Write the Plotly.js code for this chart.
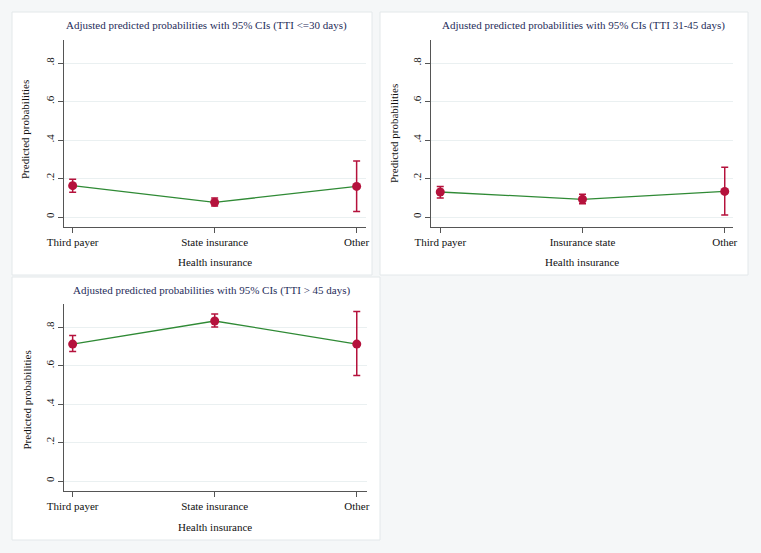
<!DOCTYPE html>
<html>
<head>
<meta charset="utf-8">
<script src="https://cdn.plot.ly/plotly-3.0.1.min.js"></script>
<style>html,body{margin:0;padding:0;background:#f5f7f8;}#chart{width:761px;height:553px;}</style>
</head>
<body>
<div id="chart"></div>
<script>
// Categories
const cats1 = ["Third payer", "State insurance", "Other"];
const cats2 = ["Third payer", "Insurance state", "Other"];
const cats3 = ["Third payer", "State insurance", "Other"];

// Panel 1: TTI <=30 days
const p1 = [0.163, 0.076, 0.159];
const lo1 = [0.128, 0.057, 0.028];
const hi1 = [0.196, 0.099, 0.291];

// Panel 2: TTI 31-45 days
const p2 = [0.130, 0.092, 0.133];
const lo2 = [0.099, 0.069, 0.010];
const hi2 = [0.159, 0.118, 0.258];

// Panel 3: TTI > 45 days
const p3 = [0.713, 0.833, 0.713];
const lo3 = [0.674, 0.802, 0.549];
const hi3 = [0.757, 0.869, 0.882];

const titles = [
  "Adjusted predicted probabilities with 95% CIs (TTI <=30 days)",
  "Adjusted predicted probabilities with 95% CIs (TTI 31-45 days)",
  "Adjusted predicted probabilities with 95% CIs (TTI > 45 days)"
];
const yTickVals = [0, 0.2, 0.4, 0.6, 0.8];
const yTickText = ["0", ".2", ".4", ".6", ".8"];

const W = 761, H = 553;
const px = v => v / W;
const py = v => 1 - v / H;

const red = "#b5123c";
const green = "#2f8a35";
const font = "Liberation Serif, Times New Roman, serif";

function traces(cats, p, lo, hi, ax) {
  const up = p.map((v, i) => hi[i] - v);
  const dn = p.map((v, i) => v - lo[i]);
  return [
    {x: cats, y: p, type: "scatter", mode: "lines", line: {color: green, width: 1.3},
     xaxis: "x" + ax, yaxis: "y" + ax, hoverinfo: "skip", showlegend: false},
    {x: cats, y: p, type: "scatter", mode: "markers",
     marker: {color: red, size: 9},
     error_y: {type: "data", symmetric: false, array: up, arrayminus: dn,
               color: red, thickness: 1.5, width: 3.5},
     xaxis: "x" + ax, yaxis: "y" + ax, showlegend: false}
  ];
}

const data = [].concat(
  traces(cats1, p1, lo1, hi1, ""),
  traces(cats2, p2, lo2, hi2, "2"),
  traces(cats3, p3, lo3, hi3, "3")
);

function xax(dom, range, anchor) {
  return {domain: dom, range: range, anchor: anchor, type: "category",
    showline: true, linecolor: "#555", linewidth: 1, mirror: false,
    ticks: "outside", ticklen: 5, tickcolor: "#555", showgrid: false, zeroline: false,
    tickfont: {family: font, size: 11, color: "#111"}, fixedrange: true};
}
function yax(dom, anchor) {
  return {domain: dom, range: [-0.052, 0.92], anchor: anchor,
    tickvals: yTickVals, ticktext: yTickText, tickangle: -90,
    showline: true, linecolor: "#555", linewidth: 1, mirror: false,
    ticks: "outside", ticklen: 5, tickcolor: "#555",
    showgrid: true, gridcolor: "#eaf0f1", gridwidth: 1, zeroline: false,
    tickfont: {family: font, size: 11, color: "#111"}, fixedrange: true};
}

const yd12 = [py(227), py(40)];
const yd3 = [py(491), py(304.3)];

const ann = (text, x, y, size, color, angle) => ({
  text: text, x: px(x), y: py(y), xref: "paper", yref: "paper",
  xanchor: "center", yanchor: "middle", showarrow: false, textangle: angle || 0,
  font: {family: font, size: size, color: color}
});

const layout = {
  width: W, height: H,
  margin: {l: 0, r: 0, t: 0, b: 0},
  paper_bgcolor: "#f5f7f8",
  plot_bgcolor: "#ffffff",
  showlegend: false,
  xaxis: xax([px(64), px(366)], [-0.061, 2.066], "y"),
  yaxis: yax(yd12, "x"),
  xaxis2: xax([px(431), px(732.7)], [-0.065, 2.056], "y2"),
  yaxis2: yax(yd12, "x2"),
  xaxis3: xax([px(64), px(366.7)], [-0.061, 2.07], "y3"),
  yaxis3: yax(yd3, "x3"),
  shapes: [
    {type: "rect", xref: "paper", yref: "paper", x0: px(12), x1: px(372), y0: py(275), y1: py(12),
     fillcolor: "#ffffff", line: {color: "#e3e8ea", width: 1}, layer: "below"},
    {type: "rect", xref: "paper", yref: "paper", x0: px(380), x1: px(748), y0: py(275), y1: py(12),
     fillcolor: "#ffffff", line: {color: "#e3e8ea", width: 1}, layer: "below"},
    {type: "rect", xref: "paper", yref: "paper", x0: px(12), x1: px(380), y0: py(540), y1: py(277),
     fillcolor: "#ffffff", line: {color: "#e3e8ea", width: 1}, layer: "below"}
  ],
  annotations: [
    ann(titles[0], 207, 26, 11, "#1f2d5a"),
    ann(titles[1], 583, 25, 11, "#1f2d5a"),
    ann(titles[2], 212, 290, 11, "#1f2d5a"),
    ann("Health insurance", 215, 262, 11, "#111"),
    ann("Health insurance", 582, 262, 11, "#111"),
    ann("Health insurance", 215, 527, 11, "#111"),
    ann("Predicted probabilities", 25, 130, 11, "#111", -90),
    ann("Predicted probabilities", 394, 133, 11, "#111", -90),
    ann("Predicted probabilities", 26.5, 400, 11, "#111", -90)
  ]
};

Plotly.newPlot("chart", data, layout, {displayModeBar: false, staticPlot: true});
</script>
</body>
</html>
